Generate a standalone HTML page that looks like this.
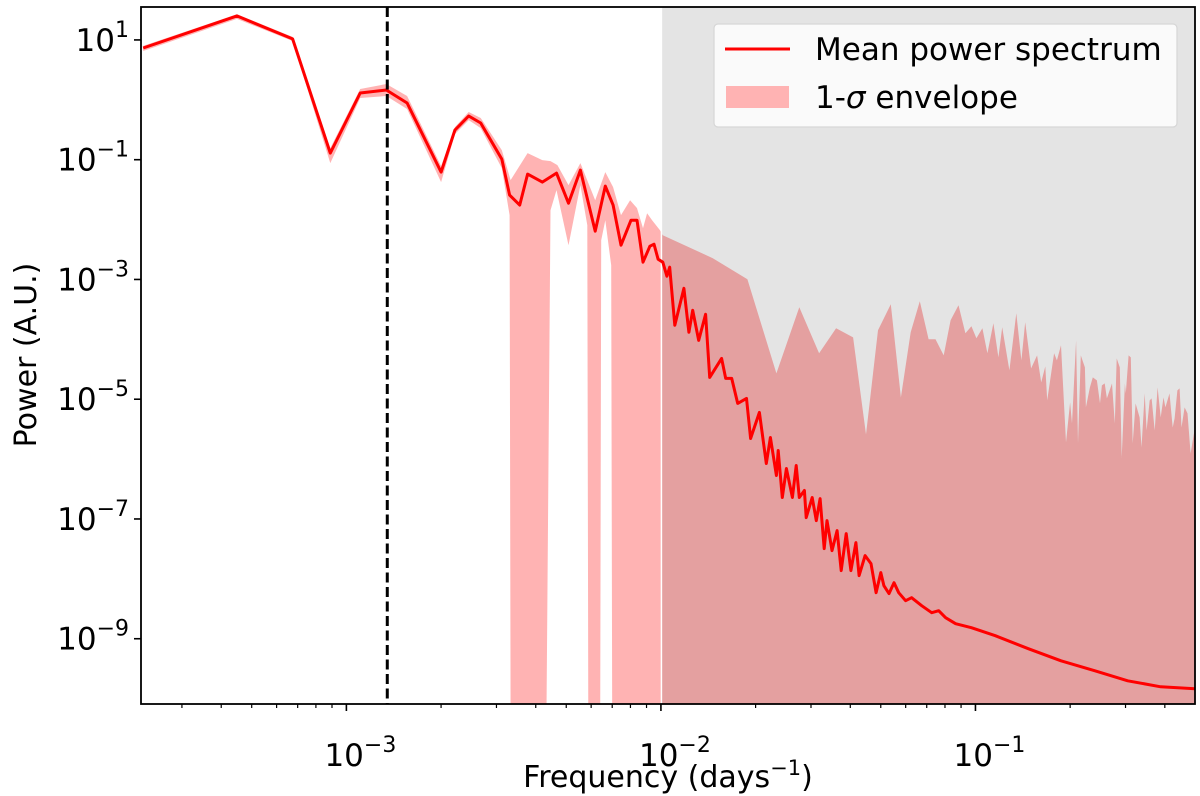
<!DOCTYPE html>
<html><head><meta charset="utf-8"><style>
html,body{margin:0;padding:0;background:#fff;}
svg{display:block;font-family:"DejaVu Sans","Liberation Sans",sans-serif;}
</style></head><body>
<svg id="chart" width="1200" height="796" viewBox="0 0 1200 796" xmlns="http://www.w3.org/2000/svg">
<defs><clipPath id="clip"><rect x="141" y="7" width="1054" height="697"/></clipPath></defs>
<g id="plot" clip-path="url(#clip)"></g>
<g id="axes"></g>
</svg>
<script>
// log10 frequency (days^-1) and log10 power of mean spectrum
const meanLogF=[-3.646,-3.348,-3.171,-3.051,-2.956,-2.873,-2.807,-2.699,-2.655,-2.611,-2.573,-2.506,-2.481,-2.449,-2.424,-2.377,-2.332,-2.294,-2.256,-2.209,-2.177,-2.152,-2.127,-2.095,-2.076,-2.057,-2.035,-2.022,-2.009,-1.994,-1.981,-1.972,-1.956,-1.927,-1.911,-1.899,-1.880,-1.858,-1.845,-1.807,-1.794,-1.775,-1.756,-1.728,-1.715,-1.687,-1.665,-1.652,-1.633,-1.627,-1.614,-1.601,-1.582,-1.570,-1.560,-1.544,-1.538,-1.519,-1.506,-1.494,-1.481,-1.472,-1.456,-1.440,-1.427,-1.411,-1.396,-1.380,-1.370,-1.351,-1.332,-1.316,-1.301,-1.291,-1.275,-1.259,-1.244,-1.222,-1.203,-1.171,-1.139,-1.117,-1.095,-1.063,-1.013,-0.937,-0.832,-0.728,-0.620,-0.516,-0.411,-0.300];
const meanLogP=[0.866,1.401,1.017,-0.890,0.114,0.164,-0.054,-1.207,-0.505,-0.271,-0.388,-0.990,-1.592,-1.759,-1.241,-1.375,-1.224,-1.726,-1.174,-2.194,-1.441,-1.759,-2.428,-2.010,-2.010,-2.712,-2.445,-2.411,-2.662,-2.712,-2.946,-2.796,-3.766,-3.147,-3.883,-3.515,-4.017,-3.582,-4.635,-4.318,-4.652,-4.652,-5.070,-4.987,-5.656,-5.221,-6.074,-5.639,-6.274,-5.856,-6.642,-6.157,-6.642,-6.107,-6.642,-6.525,-6.977,-6.642,-7.027,-6.659,-7.495,-7.027,-7.528,-7.194,-7.863,-7.244,-7.863,-7.395,-7.946,-7.612,-7.746,-8.231,-7.896,-8.114,-8.247,-8.064,-8.231,-8.365,-8.314,-8.448,-8.565,-8.532,-8.649,-8.749,-8.816,-8.950,-9.167,-9.368,-9.535,-9.702,-9.803,-9.836];
// upper 1-sigma envelope
const upLogF=[-3.646,-3.348,-3.171,-3.051,-2.956,-2.873,-2.807,-2.699,-2.655,-2.611,-2.573,-2.506,-2.478,-2.424,-2.377,-2.351,-2.329,-2.294,-2.256,-2.209,-2.177,-2.152,-2.127,-2.098,-2.076,-2.057,-2.044,-2.028,-2.003,-1.994,-1.835,-1.725,-1.633,-1.560,-1.497,-1.443,-1.389,-1.348,-1.310,-1.269,-1.237,-1.206,-1.177,-1.149,-1.127,-1.101,-1.079,-1.054,-1.032,-1.013,-0.997,-0.978,-0.962,-0.943,-0.927,-0.915,-0.892,-0.870,-0.854,-0.842,-0.823,-0.804,-0.791,-0.778,-0.772,-0.750,-0.741,-0.728,-0.712,-0.699,-0.693,-0.680,-0.674,-0.665,-0.652,-0.649,-0.636,-0.627,-0.614,-0.604,-0.598,-0.589,-0.582,-0.566,-0.557,-0.551,-0.541,-0.535,-0.525,-0.522,-0.513,-0.506,-0.500,-0.491,-0.478,-0.472,-0.462,-0.456,-0.446,-0.440,-0.430,-0.421,-0.411,-0.402,-0.396,-0.383,-0.373,-0.367,-0.358,-0.351,-0.345,-0.335,-0.326,-0.316,-0.300];
const upLogP=[0.90,1.43,1.05,-0.806,0.181,0.264,0.064,-1.107,-0.455,-0.204,-0.304,-0.839,-1.341,-0.890,-1.007,-1.023,-1.090,-1.425,-1.057,-1.676,-1.207,-1.458,-1.926,-1.676,-1.809,-2.144,-1.893,-2.010,-2.177,-2.261,-2.645,-2.997,-4.569,-3.465,-4.234,-3.816,-3.967,-5.589,-3.849,-3.415,-4.970,-3.883,-3.365,-4.000,-4.000,-4.268,-3.682,-3.432,-3.900,-3.783,-3.983,-3.816,-4.234,-3.732,-4.301,-3.799,-4.518,-3.565,-4.351,-3.716,-4.485,-4.268,-4.719,-4.452,-5.020,-4.234,-4.351,-4.100,-5.722,-5.054,-5.405,-4.017,-5.739,-4.268,-4.468,-5.137,-4.803,-4.635,-4.686,-5.070,-4.769,-4.736,-4.987,-4.736,-5.405,-4.318,-4.468,-5.973,-4.736,-4.903,-4.268,-4.301,-5.739,-5.070,-5.304,-5.806,-4.903,-5.522,-5.020,-4.987,-5.522,-4.803,-5.304,-4.970,-5.137,-4.903,-5.472,-5.321,-4.853,-4.819,-5.472,-5.137,-5.237,-5.906,-5.405];
// lower 1-sigma envelope (-12 = non-positive, clipped)
const loLogF=[-3.646,-3.348,-3.171,-3.051,-2.956,-2.873,-2.807,-2.699,-2.655,-2.611,-2.573,-2.506,-2.481,-2.478,-2.364,-2.351,-2.332,-2.294,-2.256,-2.234,-2.231,-2.193,-2.190,-2.177,-2.158,-2.155,-0.300];
const loLogP=[0.816,1.351,0.983,-1.057,0.030,0.064,-0.154,-1.375,-0.572,-0.338,-0.472,-1.140,-1.926,-12,-12,-1.843,-1.508,-2.428,-1.425,-2.094,-12,-12,-2.345,-2.010,-2.763,-12,-12];
const xTickExp=[-3,-2,-1];
const yTickExp=[1,-1,-3,-5,-7,-9];
const markerLogF=-2.870;
const shadeStartLogF=-2.0;

const L=141,R=1195,T=7,B=704;
const xMin=-3.653,xMax=-0.302,yMin=-10.09,yMax=1.55;
const X=v=>L+(v-xMin)/(xMax-xMin)*(R-L);
const Y=v=>B-(v-yMin)/(yMax-yMin)*(B-T);
const NS="http://www.w3.org/2000/svg";
function mk(tag,attrs,parent){const e=document.createElementNS(NS,tag);for(const k in attrs)e.setAttribute(k,attrs[k]);parent.appendChild(e);return e;}
const plot=document.getElementById('plot'),axes=document.getElementById('axes');
const cy=v=>Math.min(Y(v),B+20);

let pts=upLogF.map((f,i)=>X(f).toFixed(1)+','+cy(upLogP[i]).toFixed(1));
for(let i=loLogF.length-1;i>=0;i--)pts.push(X(loLogF[i]).toFixed(1)+','+cy(loLogP[i]).toFixed(1));
const env=mk('polygon',{points:pts.join(' '),fill:'#ffb3b3'},plot);


const sh=mk('rect',{x:X(shadeStartLogF)+1,y:T,width:R-X(shadeStartLogF)-1,height:B-T,fill:'rgba(0,0,0,0.105)'},plot);


mk('line',{x1:X(shadeStartLogF)+0.5,x2:X(shadeStartLogF)+0.5,y1:T,y2:B,stroke:'#fff','stroke-width':1.5},plot);
const ln=mk('polyline',{points:meanLogF.map((f,i)=>X(f).toFixed(1)+','+Y(meanLogP[i]).toFixed(1)).join(' '),fill:'none',stroke:'#ff0000','stroke-width':3,'stroke-linejoin':'round'},plot);


const dl=mk('line',{x1:X(markerLogF),x2:X(markerLogF),y1:T,y2:B,stroke:'#000','stroke-width':3,'stroke-dasharray':'10,4.5'},plot);



mk('rect',{x:L,y:T,width:R-L,height:B-T,fill:'none',stroke:'#000','stroke-width':1.8},axes);
for(let d=-4;d<=0;d++){for(let m=1;m<10;m++){const lv=d+Math.log10(m);if(lv<xMin||lv>xMax)continue;const x=X(lv);
 mk('line',{x1:x,x2:x,y1:B,y2:B+(m==1?7:4),stroke:'#000','stroke-width':m==1?1.6:1.2},axes);}}
xTickExp.forEach(e=>{const t=mk('text',{x:X(e)+14,y:766,'font-size':31,'text-anchor':'middle'},axes);
 
 
 t.innerHTML='10<tspan dy="-14" font-size="22">\u2212'+(-e)+'</tspan>';});
yTickExp.forEach(e=>{const y=Y(e);mk('line',{x1:L-7,x2:L,y1:y,y2:y,stroke:'#000','stroke-width':1.6},axes);
 const t=mk('text',{x:L-12,y:y+11,'font-size':31,'text-anchor':'end'},axes);
 
 
 t.innerHTML='10<tspan dy="-14" font-size="22">'+(e<0?'\u2212'+(-e):e)+'</tspan>';});
const xl=mk('text',{x:668,y:787,'font-size':30,'text-anchor':'middle'},axes);


xl.innerHTML='Frequency (days<tspan dy="-12" font-size="21">\u22121</tspan><tspan dy="12">)</tspan>';
const yl=mk('text',{x:0,y:0,'font-size':30,'text-anchor':'middle',transform:'translate(36,355) rotate(-90)'},axes);


yl.textContent='Power (A.U.)';
const lg=mk('g',{},axes);


mk('rect',{x:714,y:24,width:463,height:103,rx:4,fill:'rgba(255,255,255,0.8)',stroke:'#d6d6d6','stroke-width':1.2},lg);
mk('line',{x1:725,x2:790,y1:49,y2:49,stroke:'#ff0000','stroke-width':3},lg);
const t1=mk('text',{x:815,y:60,'font-size':31},lg);t1.textContent='Mean power spectrum';


mk('rect',{x:726,y:86,width:63,height:22,fill:'#ffb3b3'},lg);
const t2=mk('text',{x:815,y:108,'font-size':31},lg);t2.innerHTML='1-<tspan font-style="italic">\u03c3</tspan> envelope';


</script>
</body></html>
